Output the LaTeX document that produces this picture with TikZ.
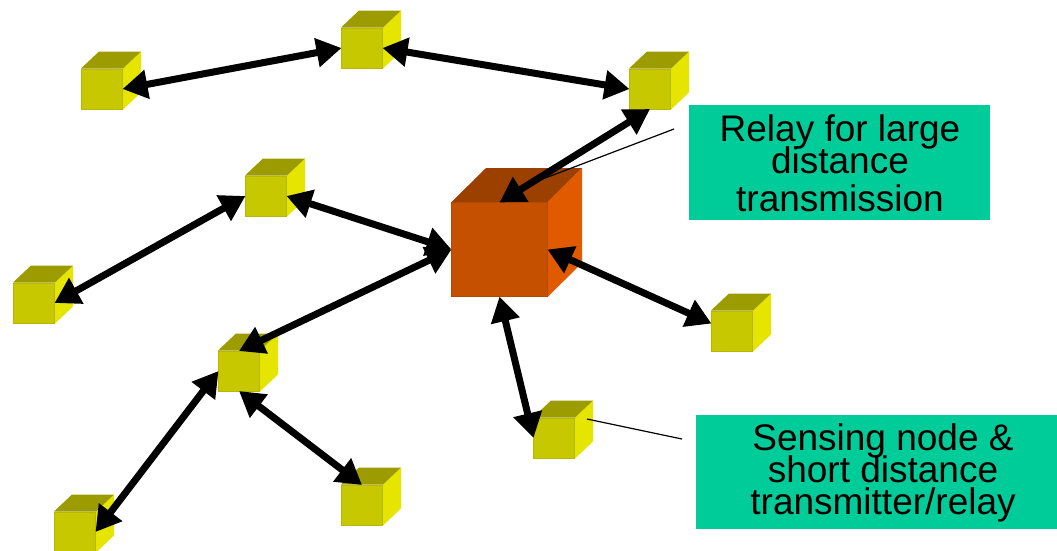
\documentclass[tikz,border=0pt]{standalone}
\usepackage{fontspec}
\setmainfont{Liberation Sans}
\usetikzlibrary{arrows.meta}
\definecolor{yfront}{HTML}{C8C800}
\definecolor{yside}{HTML}{E5E500}
\definecolor{ytop}{HTML}{9C9C00}
\definecolor{ofront}{HTML}{C45000}
\definecolor{oside}{HTML}{E25A00}
\definecolor{otop}{HTML}{9C4000}
\definecolor{teal}{HTML}{00CC99}
\newcommand{\tagfonta}{\fontsize{37}{35}\selectfont\setlength{\lineskiplimit}{-30pt}}
\newcommand{\tagfontb}{\fontsize{37}{32}\selectfont\setlength{\lineskiplimit}{-30pt}}
\tikzset{
  smallface/.style={fill=yfront,draw=yfront!92!black,line width=1pt,inner sep=0pt,outer sep=0pt,minimum width=41pt,minimum height=40pt},
  bigface/.style={fill=ofront,draw=ofront!92!black,line width=1pt,inner sep=0pt,outer sep=0pt,minimum width=96pt,minimum height=94pt},
  link/.style={line width=7pt,{Triangle[length=25pt,width=28pt]}-{Triangle[length=25pt,width=28pt]}},
  leader/.style={line width=1.2pt,black},
  tagbox/.style={fill=teal,inner sep=0pt,outer sep=0pt},
  tagtext/.style={align=center,font=\tagfonta,inner sep=0pt},
  tagtextb/.style={align=center,font=\tagfontb,inner sep=0pt}
}
\newcommand{\smallcube}[3]{%
  \fill[yside] (#2+21,#3-20.5) -- ++(18,-17) -- ++(0,41) -- ++(-18,17) -- cycle;
  \fill[ytop] (#2-21,#3-20.5) -- ++(18,-17) -- ++(42,0) -- ++(-18,17) -- cycle;
  \node[smallface] (#1) at (#2,#3) {};
}
\begin{document}
\begin{tikzpicture}[x=1pt,y=-1pt]
\useasboundingbox (0,0) rectangle (1057,550);
% big cube
\fill[oside] (547.5,202) -- (582,168) -- (582,263) -- (547.5,297) -- cycle;
\fill[otop] (451.5,202) -- (486,168) -- (582,168) -- (547.5,202) -- cycle;
\node[bigface] (B) at (499.5,249.5) {};
% small cubes
\smallcube{n1}{102}{89}
\smallcube{n2}{362}{48}
\smallcube{n3}{650}{89}
\smallcube{n4}{266}{196}
\smallcube{n5}{34}{303}
\smallcube{n6}{239}{371}
\smallcube{n7}{732}{331}
\smallcube{n8}{554}{438}
\smallcube{n9}{362}{505}
\smallcube{n10}{75}{532}
% tags
\node[tagbox,minimum width=301pt,minimum height=115pt] (t1) at (839.5,162.5) {};
\node[tagbox,minimum width=361pt,minimum height=114pt] (t2) at (876.5,472) {};
\node[tagtext] (l1) at (840,163) {Relay for large\\[-3pt]distance\\[3pt]transmission};
\node[tagtextb] (l2) at (883,473) {Sensing node \&\\short distance\\transmitter/relay};
% leaders
\coordinate (e1) at (674,129);
\coordinate (e2) at (540,180);
\coordinate (e3) at (587,419);
\coordinate (e4) at (682,439);
\draw[leader] (e1) -- (e2);
\draw[leader] (e3) -- (e4);
% links
\draw[link] (n1.east) -- (n2.west);
\draw[link] (n2.east) -- (n3.west);
\draw[link] (n3.south) -- (B.north);
\draw[link] (n4.east) -- (B.west);
\draw[link] (n5.east) -- (n4.west);
\draw[link] (B.west) -- (n6.north);
\draw[link] (n6.west) -- (n10.east);
\draw[link] (n6.south) -- (n9.north);
\draw[link] (B.east) -- (n7.160);
\draw[link] (B.south) -- (n8.west);
\end{tikzpicture}
\end{document}
